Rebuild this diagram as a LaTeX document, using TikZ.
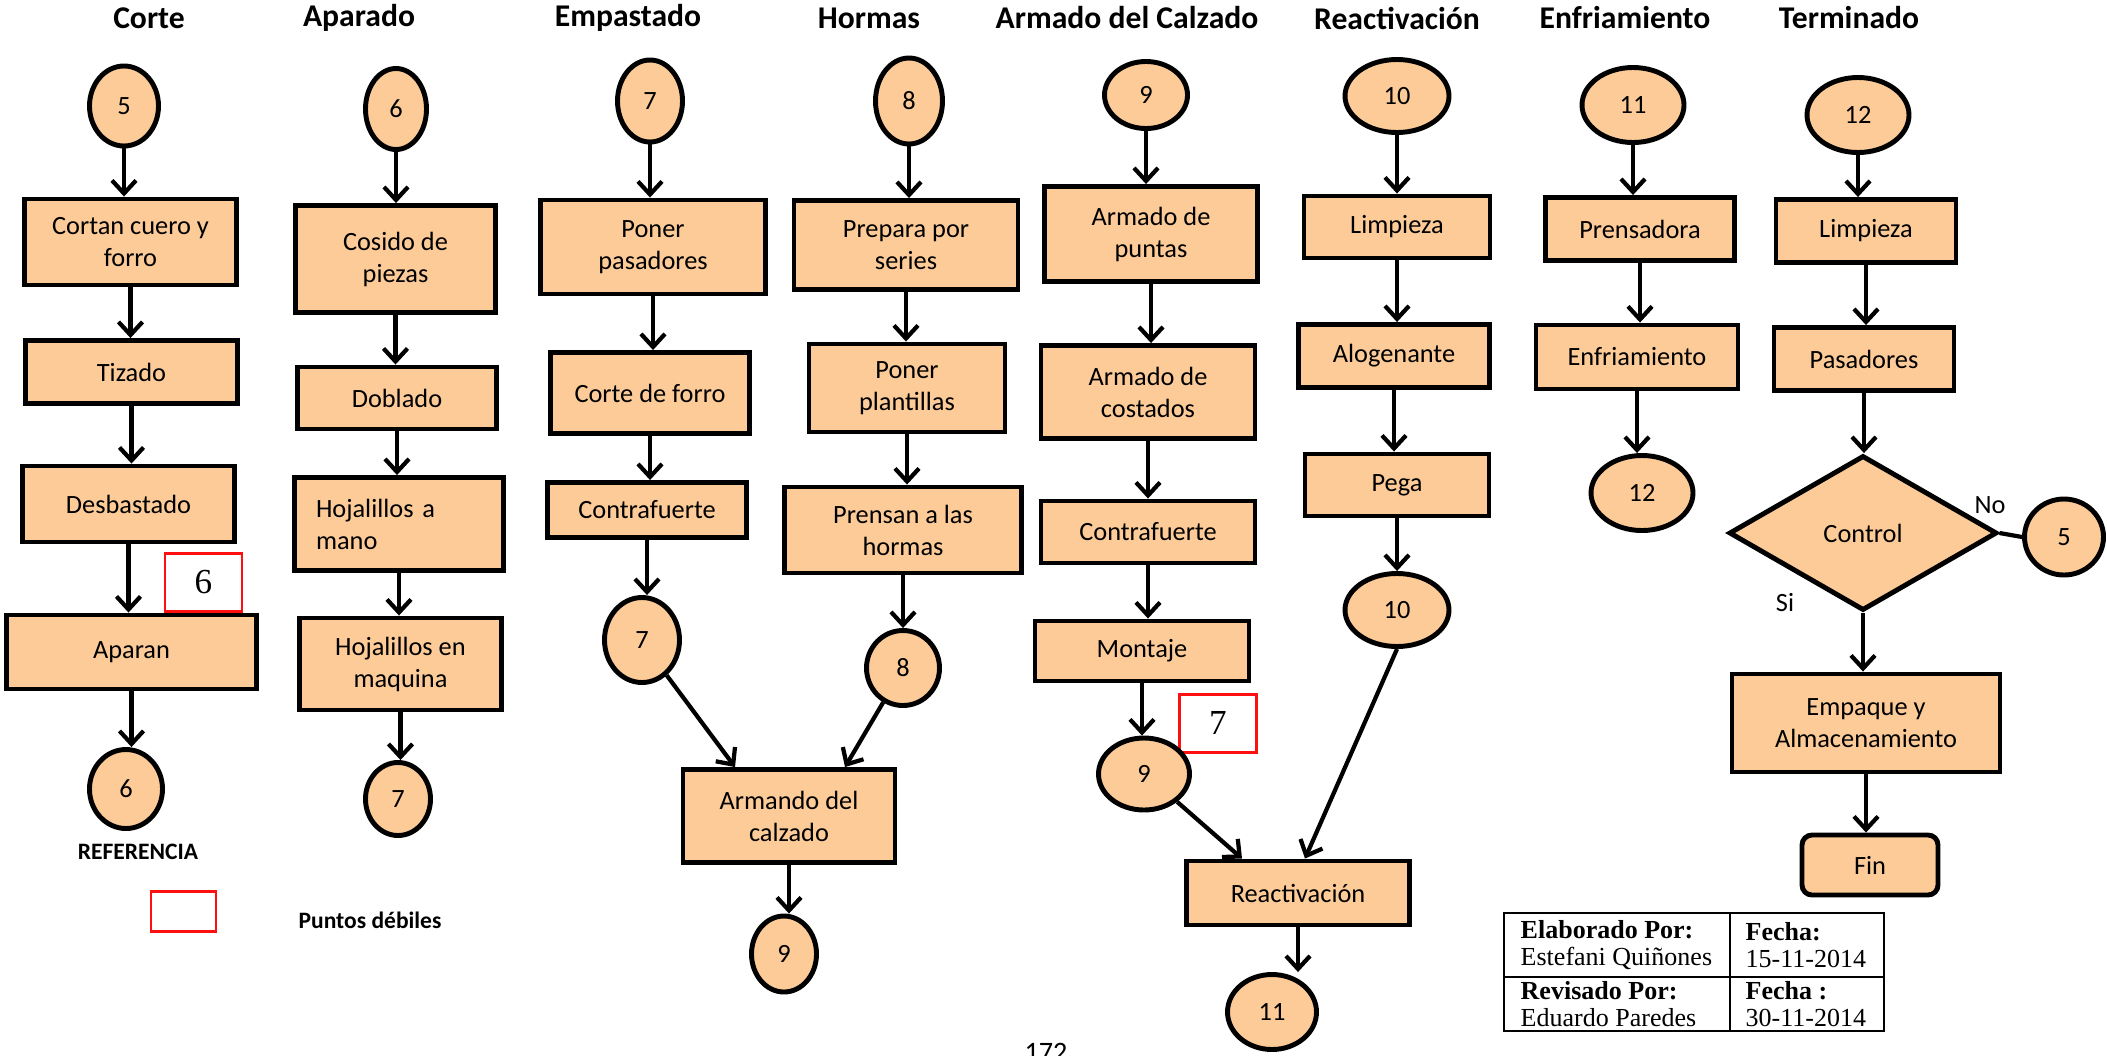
\documentclass[tikz,border=0pt]{standalone}
\usepackage{fontspec}
\setmainfont{Carlito}
\newfontfamily\serifa{Liberation Serif}
\usetikzlibrary{arrows.meta,shapes.geometric}
\definecolor{piel}{HTML}{FCCB98}
\definecolor{rojo}{HTML}{FF1010}

\tikzset{
  caja/.style 2 args={draw, line width=1.4pt, fill=piel, align=center, inner sep=1pt,
    minimum width=#1cm, minimum height=#2cm, font=\fontsize{7.5}{9.1}\selectfont},
  circ/.style 2 args={ellipse, draw, line width=1.4pt, fill=piel, inner sep=0pt,
    minimum width=#1cm, minimum height=#2cm, font=\fontsize{7.5}{9}\selectfont},
  flecha/.style={line width=1.2pt, -{Straight Barb[length=1.3mm,width=2.4mm]}},
  titulo/.style={font=\fontsize{9}{11}\selectfont\bfseries},
  puntodebil/.style={draw=rojo, line width=0.85pt, fill=white, inner sep=0pt,
    font=\serifa\fontsize{10}{12}\selectfont},
  celda/.style={anchor=west, align=left, inner sep=0pt, font=\serifa\fontsize{7.4}{7.9}\selectfont},
}

\begin{document}
\begin{tikzpicture}
  \useasboundingbox (0,0) rectangle (21.07,10.55);
  \clip (0,0) rectangle (21.07,10.55);

  % Titulos
  \node[titulo] (tcorte) at (1.49,10.37) {Corte};
  \node[titulo] (tapar) at (3.59,10.37) {Aparado};
  \node[titulo] (temp) at (6.28,10.37) {Empastado};
  \node[titulo] (thor) at (8.69,10.37) {Hormas};
  \node[titulo] (tarm) at (11.27,10.37) {Armado del Calzado};
  \node[titulo] (treac) at (13.97,10.37) {Reactivación};
  \node[titulo] (tenf) at (16.25,10.37) {Enfriamiento};
  \node[titulo] (tterm) at (18.49,10.37) {Terminado};

  % Corte
  \node[circ={0.69}{0.80}] (c5a) at (1.24,9.49) {5};
  \node[caja={2.12}{0.86}] (cortan) at (1.305,8.13) {Cortan cuero y\\forro};
  \node[caja={2.12}{0.63}] (tizado) at (1.315,6.83) {Tizado};
  \node[caja={2.12}{0.76}] (desb) at (1.285,5.51) {Desbastado};
  \node[puntodebil, minimum width=0.77cm, minimum height=0.58cm] (rojo6) at (2.035,4.73) {6};
  \node[caja={2.50}{0.74}] (aparan) at (1.315,4.03) {Aparan};
  \node[circ={0.73}{0.79}] (c6a) at (1.26,2.66) {6};
  \draw[flecha] (c5a.south) -- (c5a.south |- cortan.north);
  \draw[flecha] (cortan.south) -- (cortan.south |- tizado.north);
  \draw[flecha] (tizado.south) -- (tizado.south |- desb.north);
  \draw[flecha] (desb.south) -- (desb.south |- aparan.north);
  \draw[flecha] (aparan.south) -- (aparan.south |- c6a.north);

  % Referencia
  \node[font=\fontsize{6.7}{8}\selectfont\bfseries] (ref) at (1.38,2.03) {REFERENCIA};
  \node[puntodebil, minimum width=0.65cm, minimum height=0.40cm] (leyenda) at (1.835,1.44) {};
  \node[font=\fontsize{6.7}{8}\selectfont\bfseries] (puntos) at (3.70,1.35) {Puntos débiles};

  % Aparado
  \node[circ={0.61}{0.81}] (c6b) at (3.96,9.46) {6};
  \node[caja={2.00}{1.07}] (cosido) at (3.955,7.96) {Cosido de\\piezas};
  \node[caja={1.99}{0.62}] (doblado) at (3.97,6.57) {Doblado};
  \node[caja={2.09}{0.93}, text width=1.66cm, align=left] (hojmano) at (3.99,5.31) {Hojalillos a\\mano};
  \node[caja={2.02}{0.92}] (hojmaq) at (4.005,3.91) {Hojalillos en\\maquina};
  \node[circ={0.65}{0.73}] (c7a) at (3.98,2.56) {7};
  \draw[flecha] (c6b.south) -- (c6b.south |- cosido.north);
  \draw[flecha] (cosido.south) -- (cosido.south |- doblado.north);
  \draw[flecha] (doblado.south) -- (doblado.south |- hojmano.north);
  \draw[flecha] (hojmano.south) -- (hojmano.south |- hojmaq.north);
  \draw[flecha] (hojmaq.south) -- (hojmaq.south |- c7a.north);

  % Empastado
  \node[circ={0.65}{0.82}] (c7b) at (6.50,9.54) {7};
  \node[caja={2.25}{0.94}] (poner) at (6.53,8.08) {Poner\\pasadores};
  \node[caja={1.99}{0.81}] (forro) at (6.50,6.62) {Corte de forro};
  \node[caja={1.99}{0.55}] (contraA) at (6.47,5.45) {Contrafuerte};
  \node[circ={0.75}{0.85}] (c7c) at (6.42,4.15) {7};
  \node[caja={2.12}{0.93}] (armando) at (7.89,2.39) {Armando del\\calzado};
  \node[circ={0.65}{0.76}] (c9a) at (7.84,1.01) {9};
  \draw[flecha] (c7b.south) -- (c7b.south |- poner.north);
  \draw[flecha] (poner.south) -- (poner.south |- forro.north);
  \draw[flecha] (forro.south) -- (forro.south |- contraA.north);
  \draw[flecha] (contraA.south) -- (contraA.south |- c7c.north);
  \draw[flecha] (c7c.-55) -- ([xshift=-0.54cm]armando.north);
  \draw[flecha] (armando.south) -- (armando.south |- c9a.north);

  % Hormas
  \node[circ={0.67}{0.86}] (c8a) at (9.09,9.54) {8};
  \node[caja={2.24}{0.89}] (prepara) at (9.06,8.10) {Prepara por\\series};
  \node[caja={1.96}{0.88}] (plantillas) at (9.07,6.67) {Poner\\plantillas};
  \node[caja={2.37}{0.86}] (prensan) at (9.03,5.25) {Prensan a las\\hormas};
  \node[circ={0.73}{0.75}] (c8b) at (9.03,3.87) {8};
  \draw[flecha] (c8a.south) -- (c8a.south |- prepara.north);
  \draw[flecha] (prepara.south) -- (prepara.south |- plantillas.north);
  \draw[flecha] (plantillas.south) -- (plantillas.south |- prensan.north);
  \draw[flecha] (prensan.south) -- (prensan.south |- c8b.north);
  \draw[flecha] (c8b.-120) -- ([xshift=0.56cm]armando.north);

  % Armado del Calzado
  \node[circ={0.83}{0.67}] (c9b) at (11.46,9.60) {9};
  \node[caja={2.13}{0.95}] (puntas) at (11.51,8.21) {Armado de\\puntas};
  \node[caja={2.14}{0.93}] (costados) at (11.48,6.63) {Armado de\\costados};
  \node[caja={2.14}{0.62}] (contraB) at (11.48,5.23) {Contrafuerte};
  \node[caja={2.14}{0.60}] (montaje) at (11.42,4.04) {Montaje};
  \node[puntodebil, minimum width=0.77cm, minimum height=0.58cm] (rojo7) at (12.18,3.32) {7};
  \node[circ={0.91}{0.72}] (c9c) at (11.44,2.81) {9};
  \node[caja={2.23}{0.64}] (reac) at (12.98,1.62) {Reactivación};
  \node[circ={0.89}{0.75}] (c11a) at (12.72,0.43) {11};
  \draw[flecha] (c9b.south) -- (c9b.south |- puntas.north);
  \draw[flecha] (puntas.south) -- (puntas.south |- costados.north);
  \draw[flecha] (costados.south) -- (costados.south |- contraB.north);
  \draw[flecha] (contraB.south) -- (contraB.south |- montaje.north);
  \draw[flecha] (montaje.south) -- (montaje.south |- c9c.north);
  \draw[flecha] (c9c.-40) -- ([xshift=-0.56cm]reac.north);
  \draw[flecha] (reac.south) -- (reac.south |- c11a.north);

  % Reactivacion
  \node[circ={1.04}{0.73}] (c10a) at (13.97,9.59) {10};
  \node[caja={1.86}{0.62}] (limp1) at (13.97,8.28) {Limpieza};
  \node[caja={1.91}{0.63}] (alog) at (13.94,6.99) {Alogenante};
  \node[caja={1.84}{0.62}] (pega) at (13.97,5.70) {Pega};
  \node[circ={1.04}{0.73}] (c10b) at (13.97,4.45) {10};
  \draw[flecha] (c10a.south) -- (c10a.south |- limp1.north);
  \draw[flecha] (limp1.south) -- (limp1.south |- alog.north);
  \draw[flecha] (alog.south) -- (alog.south |- pega.north);
  \draw[flecha] (pega.south) -- (pega.south |- c10b.north);
  \draw[flecha] (c10b.south) -- ([xshift=0.07cm]reac.north);

  % Enfriamiento
  \node[circ={1.02}{0.75}] (c11b) at (16.33,9.50) {11};
  \node[caja={1.89}{0.63}] (prens) at (16.40,8.26) {Prensadora};
  \node[caja={2.02}{0.64}] (enfr) at (16.37,6.98) {Enfriamiento};
  \node[circ={1.02}{0.75}] (c12a) at (16.42,5.62) {12};
  \draw[flecha] (c11b.south) -- (c11b.south |- prens.north);
  \draw[flecha] (prens.south) -- (prens.south |- enfr.north);
  \draw[flecha] (enfr.south) -- (enfr.south |- c12a.north);

  % Terminado
  \node[circ={1.02}{0.75}] (c12b) at (18.58,9.40) {12};
  \node[caja={1.80}{0.63}] (limp2) at (18.66,8.24) {Limpieza};
  \node[caja={1.80}{0.63}] (pasad) at (18.64,6.96) {Pasadores};
  \node[diamond, draw, line width=1.4pt, fill=piel, inner sep=0pt, minimum width=2.68cm,
    minimum height=1.55cm, font=\fontsize{7.5}{9}\selectfont] (control) at (18.63,5.22) {Control};
  \node[font=\fontsize{7.5}{9}\selectfont] (no) at (19.90,5.50) {No};
  \node[font=\fontsize{7.5}{9}\selectfont] (si) at (17.85,4.52) {Si};
  \node[circ={0.79}{0.76}] (c5b) at (20.64,5.18) {5};
  \node[caja={2.68}{0.98}] (empaque) at (18.66,3.32) {Empaque y\\Almacenamiento};
  \node[caja={1.36}{0.60}, rounded corners=1mm] (fin) at (18.70,1.90) {Fin};
  \draw[flecha] (c12b.south) -- (c12b.south |- limp2.north);
  \draw[flecha] (limp2.south) -- (limp2.south |- pasad.north);
  \draw[flecha] (pasad.south) -- (pasad.south |- control.north);
  \draw[line width=1.2pt] (control.east) -- (c5b.west);
  \draw[flecha] (control.south) -- (control.south |- empaque.north);
  \draw[flecha] (empaque.south) -- (empaque.south |- fin.north);

  % Tabla de firmas
  \draw[line width=0.5pt] (15.04,0.24) rectangle (18.84,1.42);
  \draw[line width=0.5pt] (15.04,0.78) -- (18.84,0.78);
  \draw[line width=0.5pt] (17.30,0.24) -- (17.30,1.42);
  \node[celda] (elab) at (15.20,1.10) {\textbf{Elaborado Por:}\\Estefani Quiñones};
  \node[celda] (fecha1) at (17.45,1.10) {\textbf{Fecha:}\\15-11-2014};
  \node[celda] (revis) at (15.20,0.51) {\textbf{Revisado Por:}\\Eduardo Paredes};
  \node[celda] (fecha2) at (17.45,0.51) {\textbf{Fecha :}\\30-11-2014};

  % Pagina
  \node[font=\fontsize{8}{10}\selectfont, anchor=north, inner sep=0pt] (pagina) at (10.46,0.12) {172};
\end{tikzpicture}
\end{document}
